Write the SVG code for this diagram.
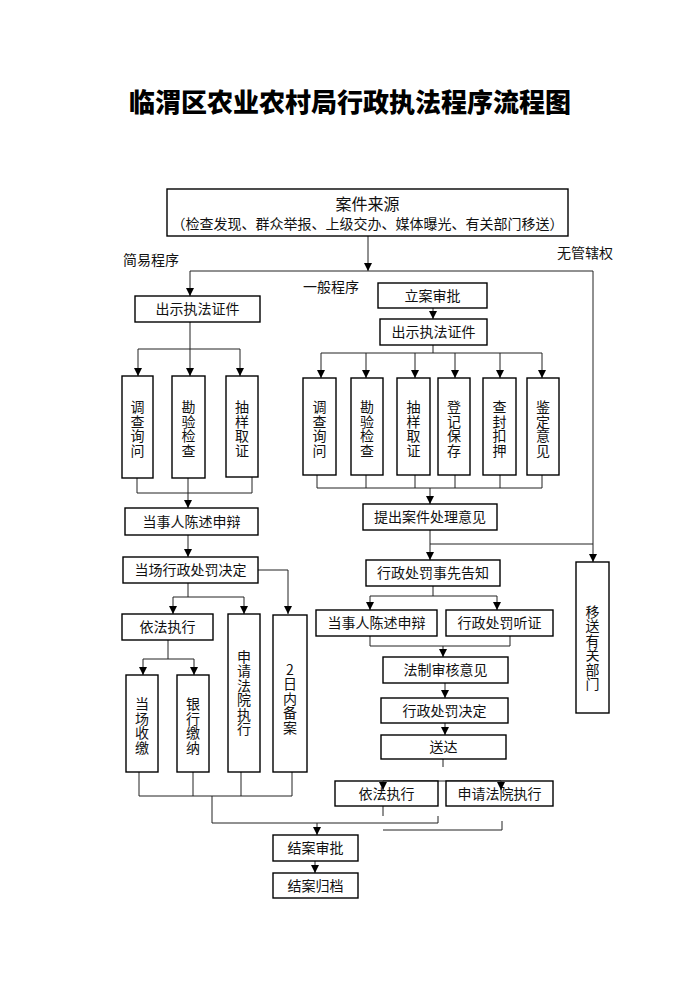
<svg xmlns="http://www.w3.org/2000/svg" width="700" height="990" viewBox="0 0 700 990">
<defs>
<marker id="ah" markerUnits="userSpaceOnUse" markerWidth="8" markerHeight="8" refX="8" refY="4" orient="auto">
<path d="M0,0 L8,4 L0,8 z" fill="#000"/>
</marker>
<style>
.b{fill:#fff;stroke:#000;stroke-width:1.4}
.t{font-family:"Noto Sans CJK SC","Noto Sans",sans-serif;font-size:14px;fill:#111;text-anchor:middle}
.v{font-family:"Noto Sans CJK SC","Noto Sans",sans-serif;font-size:14px;fill:#111;text-anchor:middle;writing-mode:vertical-rl;text-orientation:upright;letter-spacing:0.5px}
.l{font-family:"Noto Sans CJK SC","Noto Sans",sans-serif;font-size:14px;fill:#111}
.c path{fill:none;stroke:#222;stroke-width:1}
.a{marker-end:url(#ah)}
</style>
</defs>
<rect width="700" height="990" fill="#fff"/>
<text x="350" y="112" style="font-family:'Noto Sans CJK SC',sans-serif;font-size:26px;font-weight:900;text-anchor:middle;fill:#000">临渭区农业农村局行政执法程序流程图</text>

<g id="lbl-simple"><text class="l" x="123" y="265">简易程序</text></g>
<g id="lbl-general"><text class="l" x="303" y="292">一般程序</text></g>
<g id="lbl-nojur"><text class="l" x="557" y="258">无管辖权</text></g>

<g class="c" id="connectors">
<path class="a" d="M368,236 V271"/>
<path d="M190,271 H593"/>
<path class="a" d="M190,271 V296"/>
<path class="a" d="M593,271 V562"/>
<path d="M430,544 H593"/>
<path d="M190,322 V349 M138,349 H240"/>
<path class="a" d="M138,349 V376"/>
<path class="a" d="M190,349 V376"/>
<path class="a" d="M240,349 V376"/>
<path d="M137,478 V493 H252 V477"/>
<path class="a" d="M188,478 V508"/>
<path class="a" d="M188,535 V557"/>
<path class="a" d="M258,570 H288 V614"/>
<path d="M188,583 V597 M173,597 H244"/>
<path class="a" d="M173,597 V614"/>
<path class="a" d="M244,597 V614"/>
<path d="M168,640 V659 M143,659 H194"/>
<path class="a" d="M143,659 V675"/>
<path class="a" d="M194,659 V675"/>
<path d="M139,772 V796 M193,772 V796 M241,772 V796 M292,772 V796 M139,796 H292"/>
<path d="M212,796 V823 H438 V816"/>
<path class="a" d="M317,823 V835"/>
<path class="a" d="M315,861 V873"/>
<path class="a" d="M433,308 V319"/>
<path d="M433,345 V353 M321,353 H542"/>
<path class="a" d="M321,353 V378"/>
<path class="a" d="M366,353 V378"/>
<path class="a" d="M415,353 V378"/>
<path class="a" d="M455,353 V378"/>
<path class="a" d="M500,353 V378"/>
<path class="a" d="M542,353 V378"/>
<path d="M317,475 V488 M366,475 V488 M415,475 V488 M455,475 V488 M500,475 V488 M542,475 V488 M317,488 H542"/>
<path class="a" d="M430,488 V504"/>
<path class="a" d="M430,530 V560"/>
<path d="M433,586 V596 M370,596 H497"/>
<path class="a" d="M370,596 V610"/>
<path class="a" d="M497,596 V610"/>
<path d="M370,636 V646 M510,636 V646 M370,646 H510"/>
<path class="a" d="M443,646 V657"/>
<path class="a" d="M445,683 V698"/>
<path class="a" d="M445,723 V735"/>
<path d="M443,759 V767"/>
<path d="M383,781 H501"/>
<path d="M383,806 V816 M383,830 H502 V821"/>
</g>

<g id="n-source"><rect class="b" x="167" y="189" width="401" height="47"/>
<text class="t" x="367.5" y="210" style="font-size:16px">案件来源</text>
<text class="t" x="367.5" y="229">（检查发现、群众举报、上级交办、媒体曝光、有关部门移送）</text></g>

<g id="s-cert"><rect class="b" x="135" y="296" width="125" height="26"/><text class="t" x="197.5" y="314">出示执法证件</text></g>
<g id="s-inq"><rect class="b" x="122" y="376" width="31" height="102"/><text class="v" x="137.5" y="429">调查询问</text></g>
<g id="s-insp"><rect class="b" x="172" y="376" width="33" height="102"/><text class="v" x="188.5" y="429">勘验检查</text></g>
<g id="s-samp"><rect class="b" x="226" y="376" width="32" height="101"/><text class="v" x="242" y="429">抽样取证</text></g>
<g id="s-defend"><rect class="b" x="125" y="508" width="133" height="27"/><text class="t" x="191.5" y="526.5">当事人陈述申辩</text></g>
<g id="s-decide"><rect class="b" x="123" y="557" width="135" height="26"/><text class="t" x="190.5" y="575">当场行政处罚决定</text></g>
<g id="s-exec"><rect class="b" x="122" y="614" width="91" height="26"/><text class="t" x="167.5" y="632">依法执行</text></g>
<g id="s-court"><rect class="b" x="228" y="614" width="32" height="158"/><text class="v" x="244" y="693">申请法院执行</text></g>
<g id="s-file"><rect class="b" x="273" y="615" width="34" height="157"/><text class="v" x="290" y="698.5">2日内备案</text></g>
<g id="s-cash"><rect class="b" x="126" y="675" width="32" height="97"/><text class="v" x="142" y="726">当场收缴</text></g>
<g id="s-bank"><rect class="b" x="177" y="675" width="32" height="97"/><text class="v" x="193" y="726">银行缴纳</text></g>

<g id="g-approve"><rect class="b" x="378" y="283" width="109" height="25"/><text class="t" x="432.5" y="300.5">立案审批</text></g>
<g id="g-cert"><rect class="b" x="380" y="319" width="107" height="26"/><text class="t" x="433.5" y="337">出示执法证件</text></g>
<g id="g-inq"><rect class="b" x="303" y="378" width="33" height="97"/><text class="v" x="319.5" y="429">调查询问</text></g>
<g id="g-insp"><rect class="b" x="351" y="378" width="32" height="97"/><text class="v" x="367" y="429">勘验检查</text></g>
<g id="g-samp"><rect class="b" x="397" y="378" width="33" height="97"/><text class="v" x="413.5" y="429">抽样取证</text></g>
<g id="g-reg"><rect class="b" x="438" y="378" width="32" height="97"/><text class="v" x="454" y="429">登记保存</text></g>
<g id="g-seal"><rect class="b" x="483" y="378" width="33" height="97"/><text class="v" x="499.5" y="429">查封扣押</text></g>
<g id="g-expert"><rect class="b" x="527" y="378" width="32" height="97"/><text class="v" x="543" y="429">鉴定意见</text></g>
<g id="g-opinion"><rect class="b" x="363" y="504" width="134" height="26"/><text class="t" x="430" y="522">提出案件处理意见</text></g>
<g id="g-notice"><rect class="b" x="366" y="560" width="134" height="26"/><text class="t" x="433" y="578">行政处罚事先告知</text></g>
<g id="g-defend"><rect class="b" x="316" y="610" width="121" height="26"/><text class="t" x="376.5" y="628">当事人陈述申辩</text></g>
<g id="g-hearing"><rect class="b" x="446" y="610" width="107" height="26"/><text class="t" x="499.5" y="628">行政处罚听证</text></g>
<g id="g-legal"><rect class="b" x="383" y="657" width="125" height="26"/><text class="t" x="445.5" y="675">法制审核意见</text></g>
<g id="g-decide"><rect class="b" x="381" y="698" width="127" height="25"/><text class="t" x="444.5" y="715.5">行政处罚决定</text></g>
<g id="g-deliver"><rect class="b" x="381" y="735" width="125" height="24"/><text class="t" x="443.5" y="752">送达</text></g>
<g id="g-exec"><rect class="b" x="335" y="781" width="103" height="25"/><text class="t" x="386.5" y="798.5">依法执行</text></g>
<g id="g-court"><rect class="b" x="446" y="781" width="107" height="25"/><text class="t" x="499.5" y="798.5">申请法院执行</text></g>
<g id="n-close"><rect class="b" x="273" y="835" width="85" height="26"/><text class="t" x="315.5" y="853">结案审批</text></g>
<g id="n-archive"><rect class="b" x="273" y="873" width="85" height="25"/><text class="t" x="315.5" y="890.5">结案归档</text></g>
<g id="n-transfer"><rect class="b" x="576" y="562" width="33" height="151"/><text class="v" x="592.5" y="648">移送有关部门</text></g>
<g class="c" id="connectors-over"><path class="a" d="M383,781 V790"/><path class="a" d="M501,781 V790"/></g>
</svg>
